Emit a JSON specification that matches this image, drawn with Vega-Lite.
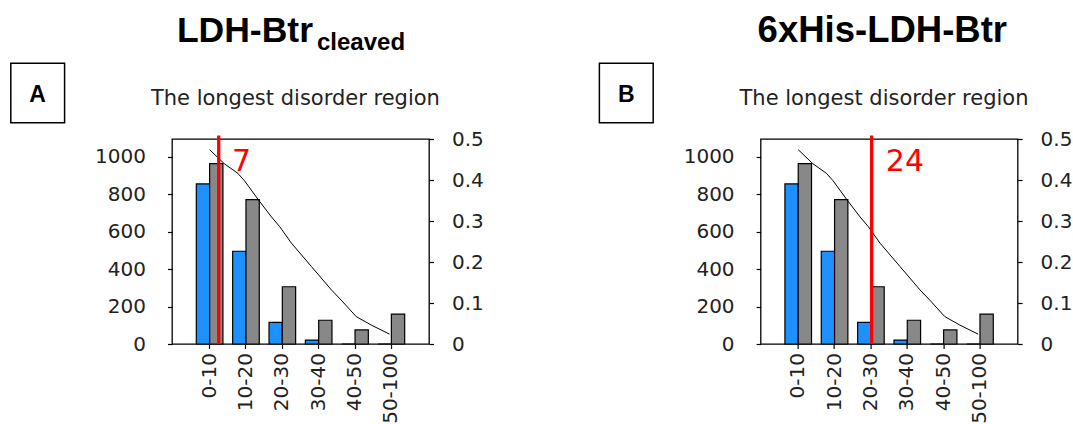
{
  "$schema": "https://vega.github.io/schema/vega-lite/v6.json",
  "background": "white",
  "padding": {"left": 9, "top": 12, "right": 0, "bottom": 0},
  "datasets": {
    "bars": [
      {"bin": "0-10", "series": "protein", "count": 856},
      {"bin": "0-10", "series": "reference", "count": 964},
      {"bin": "10-20", "series": "protein", "count": 496},
      {"bin": "10-20", "series": "reference", "count": 772},
      {"bin": "20-30", "series": "protein", "count": 116},
      {"bin": "20-30", "series": "reference", "count": 306},
      {"bin": "30-40", "series": "protein", "count": 21},
      {"bin": "30-40", "series": "reference", "count": 127},
      {"bin": "40-50", "series": "protein", "count": 0},
      {"bin": "40-50", "series": "reference", "count": 75},
      {"bin": "50-100", "series": "protein", "count": 0},
      {"bin": "50-100", "series": "reference", "count": 160}
    ],
    "curve": [
      {"pos": 0.0, "frac": 0.474},
      {"pos": 0.4, "frac": 0.44},
      {"pos": 0.78, "frac": 0.416},
      {"pos": 0.96, "frac": 0.398},
      {"pos": 1.33, "frac": 0.353},
      {"pos": 1.7, "frac": 0.31},
      {"pos": 1.93, "frac": 0.286},
      {"pos": 2.25, "frac": 0.246},
      {"pos": 2.8, "frac": 0.189},
      {"pos": 3.35, "frac": 0.132},
      {"pos": 3.62, "frac": 0.107},
      {"pos": 4.03, "frac": 0.067},
      {"pos": 4.45, "frac": 0.046},
      {"pos": 4.95, "frac": 0.024}
    ]
  },
  "spacing": 331.6,
  "bounds": "flush",
  "hconcat": [
    {
      "width": 257,
      "height": 205,
      "resolve": {"scale": {"x": "independent", "y": "independent"}},
      "layer": [
        {
          "data": {"name": "bars"},
          "mark": {"type": "bar", "stroke": "black", "strokeWidth": 1.2},
          "encoding": {
            "x": {"field": "bin", "type": "nominal", "sort": null,
              "scale": {"domain": ["0-10", "10-20", "20-30", "30-40", "40-50", "50-100"], "paddingInner": 0.268, "paddingOuter": 0.669},
              "axis": {"orient": "bottom", "title": null, "labelAngle": -90, "labelPadding": 4, "domain": false, "grid": false}},
            "xOffset": {"field": "series", "type": "nominal", "sort": null, "scale": {"paddingInner": 0, "paddingOuter": 0}},
            "y": {"field": "count", "type": "quantitative",
              "scale": {"domain": [0, 1096], "nice": false},
              "axis": {"orient": "left", "title": null, "format": "d", "values": [0, 200, 400, 600, 800, 1000], "labelPadding": 22, "domain": false, "grid": false}},
            "color": {"field": "series", "type": "nominal", "scale": {"domain": ["protein", "reference"], "range": ["#1e90ff", "#888888"]}, "legend": null}
          }
        },
        {
          "layer": [
            {
              "data": {"name": "curve"},
              "mark": {"type": "line", "color": "black", "strokeWidth": 1},
              "encoding": {
                "x": {"field": "pos", "type": "quantitative", "scale": {"domain": [-1.035, 6.035], "nice": false, "zero": false}, "axis": null},
                "y": {"field": "frac", "type": "quantitative", "scale": {"domain": [0, 0.5], "nice": false},
                  "axis": {"orient": "right", "title": null, "values": [0, 0.1, 0.2, 0.3, 0.4, 0.5], "labelExpr": "datum.value == 0 ? '0' : format(datum.value, '.1f')", "labelPadding": 18, "domain": false, "grid": false}}
              }
            },
            {
              "data": {"values": [{"pos": 0.25, "label": "7"}]},
              "mark": {"type": "rule", "color": "#ff0000", "strokeWidth": 3.3},
              "encoding": {
                "x": {"field": "pos", "type": "quantitative", "scale": {"domain": [-1.035, 6.035], "nice": false, "zero": false}, "axis": null},
                "y": {"datum": 0, "type": "quantitative", "scale": {"domain": [0, 0.5], "nice": false},
                  "axis": {"orient": "right", "title": null, "values": [0, 0.1, 0.2, 0.3, 0.4, 0.5], "labelExpr": "datum.value == 0 ? '0' : format(datum.value, '.1f')", "labelPadding": 18, "domain": false, "grid": false}},
                "y2": {"datum": 0.5085}
              }
            },
            {
              "data": {"values": [{"label": "7"}]},
              "mark": {"type": "text", "align": "left", "baseline": "alphabetic", "font": "DejaVu Sans", "fontSize": 30, "color": "#ff0000"},
              "encoding": {
                "x": {"datum": 0.618, "type": "quantitative", "scale": {"domain": [-1.035, 6.035], "nice": false, "zero": false}, "axis": null},
                "y": {"datum": 0.4227, "type": "quantitative", "scale": {"domain": [0, 0.5], "nice": false},
                  "axis": {"orient": "right", "title": null, "values": [0, 0.1, 0.2, 0.3, 0.4, 0.5], "labelExpr": "datum.value == 0 ? '0' : format(datum.value, '.1f')", "labelPadding": 18, "domain": false, "grid": false}},
                "text": {"field": "label"}
              }
            },
            {
              "data": {"values": [{"label": "LDH-Btr"}]},
              "mark": {"type": "text", "align": "left", "baseline": "alphabetic", "font": "Liberation Sans", "fontWeight": "bold", "fontSize": 35.5, "color": "black"},
              "encoding": {
                "x": {"datum": -0.9, "type": "quantitative", "scale": {"domain": [-1.035, 6.035], "nice": false, "zero": false}, "axis": null},
                "y": {"datum": 0.737, "type": "quantitative", "scale": {"domain": [0, 0.5], "nice": false},
                  "axis": {"orient": "right", "title": null, "values": [0, 0.1, 0.2, 0.3, 0.4, 0.5], "labelExpr": "datum.value == 0 ? '0' : format(datum.value, '.1f')", "labelPadding": 18, "domain": false, "grid": false}},
                "text": {"field": "label"}
              }
            },
            {
              "data": {"values": [{"label": "cleaved"}]},
              "mark": {"type": "text", "align": "left", "baseline": "alphabetic", "font": "Liberation Sans", "fontWeight": "bold", "fontSize": 24, "color": "black"},
              "encoding": {
                "x": {"datum": 2.954, "type": "quantitative", "scale": {"domain": [-1.035, 6.035], "nice": false, "zero": false}, "axis": null},
                "y": {"datum": 0.7171, "type": "quantitative", "scale": {"domain": [0, 0.5], "nice": false},
                  "axis": {"orient": "right", "title": null, "values": [0, 0.1, 0.2, 0.3, 0.4, 0.5], "labelExpr": "datum.value == 0 ? '0' : format(datum.value, '.1f')", "labelPadding": 18, "domain": false, "grid": false}},
                "text": {"field": "label"}
              }
            },
            {
              "data": {"values": [{"label": "The longest disorder region"}]},
              "mark": {"type": "text", "align": "center", "baseline": "alphabetic", "font": "DejaVu Sans", "fontSize": 21, "color": "#222222"},
              "encoding": {
                "x": {"datum": 2.36, "type": "quantitative", "scale": {"domain": [-1.035, 6.035], "nice": false, "zero": false}, "axis": null},
                "y": {"datum": 0.5829, "type": "quantitative", "scale": {"domain": [0, 0.5], "nice": false},
                  "axis": {"orient": "right", "title": null, "values": [0, 0.1, 0.2, 0.3, 0.4, 0.5], "labelExpr": "datum.value == 0 ? '0' : format(datum.value, '.1f')", "labelPadding": 18, "domain": false, "grid": false}},
                "text": {"field": "label"}
              }
            },
            {
              "data": {"values": [{"label": "A"}]},
              "mark": {"type": "rect", "filled": false, "stroke": "black", "strokeWidth": 1.5},
              "encoding": {
                "x": {"datum": -5.47, "type": "quantitative", "scale": {"domain": [-1.035, 6.035], "nice": false, "zero": false}, "axis": null},
                "x2": {"datum": -3.99},
                "y": {"datum": 0.6846, "type": "quantitative", "scale": {"domain": [0, 0.5], "nice": false},
                  "axis": {"orient": "right", "title": null, "values": [0, 0.1, 0.2, 0.3, 0.4, 0.5], "labelExpr": "datum.value == 0 ? '0' : format(datum.value, '.1f')", "labelPadding": 18, "domain": false, "grid": false}},
                "y2": {"datum": 0.5398}
              }
            },
            {
              "data": {"values": [{"label": "A"}]},
              "mark": {"type": "text", "align": "center", "baseline": "alphabetic", "font": "Liberation Sans", "fontWeight": "bold", "fontSize": 23, "color": "black"},
              "encoding": {
                "x": {"datum": -4.73, "type": "quantitative", "scale": {"domain": [-1.035, 6.035], "nice": false, "zero": false}, "axis": null},
                "y": {"datum": 0.591, "type": "quantitative", "scale": {"domain": [0, 0.5], "nice": false},
                  "axis": {"orient": "right", "title": null, "values": [0, 0.1, 0.2, 0.3, 0.4, 0.5], "labelExpr": "datum.value == 0 ? '0' : format(datum.value, '.1f')", "labelPadding": 18, "domain": false, "grid": false}},
                "text": {"field": "label"}
              }
            }
          ]
        }
      ]
    },
    {
      "width": 257,
      "height": 205,
      "resolve": {"scale": {"x": "independent", "y": "independent"}},
      "layer": [
        {
          "data": {"name": "bars"},
          "mark": {"type": "bar", "stroke": "black", "strokeWidth": 1.2},
          "encoding": {
            "x": {"field": "bin", "type": "nominal", "sort": null,
              "scale": {"domain": ["0-10", "10-20", "20-30", "30-40", "40-50", "50-100"], "paddingInner": 0.268, "paddingOuter": 0.669},
              "axis": {"orient": "bottom", "title": null, "labelAngle": -90, "labelPadding": 4, "domain": false, "grid": false}},
            "xOffset": {"field": "series", "type": "nominal", "sort": null, "scale": {"paddingInner": 0, "paddingOuter": 0}},
            "y": {"field": "count", "type": "quantitative",
              "scale": {"domain": [0, 1096], "nice": false},
              "axis": {"orient": "left", "title": null, "format": "d", "values": [0, 200, 400, 600, 800, 1000], "labelPadding": 22, "domain": false, "grid": false}},
            "color": {"field": "series", "type": "nominal", "scale": {"domain": ["protein", "reference"], "range": ["#1e90ff", "#888888"]}, "legend": null}
          }
        },
        {
          "layer": [
            {
              "data": {"name": "curve"},
              "mark": {"type": "line", "color": "black", "strokeWidth": 1},
              "encoding": {
                "x": {"field": "pos", "type": "quantitative", "scale": {"domain": [-1.035, 6.035], "nice": false, "zero": false}, "axis": null},
                "y": {"field": "frac", "type": "quantitative", "scale": {"domain": [0, 0.5], "nice": false},
                  "axis": {"orient": "right", "title": null, "values": [0, 0.1, 0.2, 0.3, 0.4, 0.5], "labelExpr": "datum.value == 0 ? '0' : format(datum.value, '.1f')", "labelPadding": 18, "domain": false, "grid": false}}
              }
            },
            {
              "data": {"values": [{"pos": 2.02, "label": "24"}]},
              "mark": {"type": "rule", "color": "#ff0000", "strokeWidth": 3.3},
              "encoding": {
                "x": {"field": "pos", "type": "quantitative", "scale": {"domain": [-1.035, 6.035], "nice": false, "zero": false}, "axis": null},
                "y": {"datum": 0, "type": "quantitative", "scale": {"domain": [0, 0.5], "nice": false},
                  "axis": {"orient": "right", "title": null, "values": [0, 0.1, 0.2, 0.3, 0.4, 0.5], "labelExpr": "datum.value == 0 ? '0' : format(datum.value, '.1f')", "labelPadding": 18, "domain": false, "grid": false}},
                "y2": {"datum": 0.5085}
              }
            },
            {
              "data": {"values": [{"label": "24"}]},
              "mark": {"type": "text", "align": "left", "baseline": "alphabetic", "font": "DejaVu Sans", "fontSize": 30, "color": "#ff0000"},
              "encoding": {
                "x": {"datum": 2.409, "type": "quantitative", "scale": {"domain": [-1.035, 6.035], "nice": false, "zero": false}, "axis": null},
                "y": {"datum": 0.4227, "type": "quantitative", "scale": {"domain": [0, 0.5], "nice": false},
                  "axis": {"orient": "right", "title": null, "values": [0, 0.1, 0.2, 0.3, 0.4, 0.5], "labelExpr": "datum.value == 0 ? '0' : format(datum.value, '.1f')", "labelPadding": 18, "domain": false, "grid": false}},
                "text": {"field": "label"}
              }
            },
            {
              "data": {"values": [{"label": "6xHis-LDH-Btr"}]},
              "mark": {"type": "text", "align": "center", "baseline": "alphabetic", "font": "Liberation Sans", "fontWeight": "bold", "fontSize": 36.5, "color": "black"},
              "encoding": {
                "x": {"datum": 2.313, "type": "quantitative", "scale": {"domain": [-1.035, 6.035], "nice": false, "zero": false}, "axis": null},
                "y": {"datum": 0.737, "type": "quantitative", "scale": {"domain": [0, 0.5], "nice": false},
                  "axis": {"orient": "right", "title": null, "values": [0, 0.1, 0.2, 0.3, 0.4, 0.5], "labelExpr": "datum.value == 0 ? '0' : format(datum.value, '.1f')", "labelPadding": 18, "domain": false, "grid": false}},
                "text": {"field": "label"}
              }
            },
            {
              "data": {"values": [{"label": "The longest disorder region"}]},
              "mark": {"type": "text", "align": "center", "baseline": "alphabetic", "font": "DejaVu Sans", "fontSize": 21, "color": "#222222"},
              "encoding": {
                "x": {"datum": 2.36, "type": "quantitative", "scale": {"domain": [-1.035, 6.035], "nice": false, "zero": false}, "axis": null},
                "y": {"datum": 0.5829, "type": "quantitative", "scale": {"domain": [0, 0.5], "nice": false},
                  "axis": {"orient": "right", "title": null, "values": [0, 0.1, 0.2, 0.3, 0.4, 0.5], "labelExpr": "datum.value == 0 ? '0' : format(datum.value, '.1f')", "labelPadding": 18, "domain": false, "grid": false}},
                "text": {"field": "label"}
              }
            },
            {
              "data": {"values": [{"label": "B"}]},
              "mark": {"type": "rect", "filled": false, "stroke": "black", "strokeWidth": 1.5},
              "encoding": {
                "x": {"datum": -5.47, "type": "quantitative", "scale": {"domain": [-1.035, 6.035], "nice": false, "zero": false}, "axis": null},
                "x2": {"datum": -3.99},
                "y": {"datum": 0.6846, "type": "quantitative", "scale": {"domain": [0, 0.5], "nice": false},
                  "axis": {"orient": "right", "title": null, "values": [0, 0.1, 0.2, 0.3, 0.4, 0.5], "labelExpr": "datum.value == 0 ? '0' : format(datum.value, '.1f')", "labelPadding": 18, "domain": false, "grid": false}},
                "y2": {"datum": 0.5398}
              }
            },
            {
              "data": {"values": [{"label": "B"}]},
              "mark": {"type": "text", "align": "center", "baseline": "alphabetic", "font": "Liberation Sans", "fontWeight": "bold", "fontSize": 23, "color": "black"},
              "encoding": {
                "x": {"datum": -4.73, "type": "quantitative", "scale": {"domain": [-1.035, 6.035], "nice": false, "zero": false}, "axis": null},
                "y": {"datum": 0.591, "type": "quantitative", "scale": {"domain": [0, 0.5], "nice": false},
                  "axis": {"orient": "right", "title": null, "values": [0, 0.1, 0.2, 0.3, 0.4, 0.5], "labelExpr": "datum.value == 0 ? '0' : format(datum.value, '.1f')", "labelPadding": 18, "domain": false, "grid": false}},
                "text": {"field": "label"}
              }
            }
          ]
        }
      ]
    }
  ],
  "config": {
    "view": {"stroke": "black", "strokeWidth": 1.3},
    "axis": {
      "grid": false,
      "domain": false,
      "tickColor": "black",
      "tickWidth": 1.2,
      "tickSize": 4.5,
      "labelFont": "DejaVu Sans",
      "labelFontSize": 20,
      "labelColor": "#222222",
      "labelFlush": false,
      "labelOverlap": false,
      "labelBound": false
    }
  }
}
